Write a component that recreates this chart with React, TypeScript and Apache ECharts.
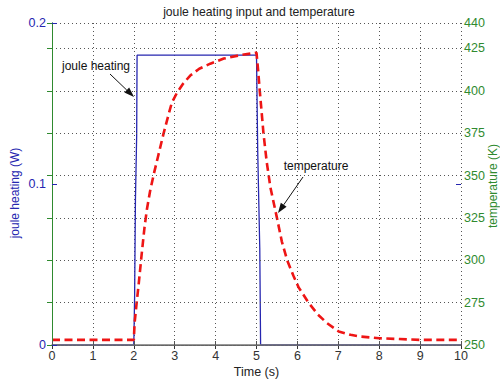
import React, { useEffect, useRef } from "react";
import * as echarts from "echarts";

const chartTitle = "joule heating input and temperature";
const xAxisName = "Time (s)";
const leftAxisName = "joule heating (W)";
const rightAxisName = "temperature (K)";

// joule heating input (W) vs time (s)
const heatingData: [number, number][] = [
  [0, 0], [2.0, 0], [2.02, 0.03], [2.04, 0.09], [2.07, 0.13], [2.08, 0.18],
  [5.0, 0.18], [5.03, 0.12], [5.08, 0.06], [5.1, 0], [10, 0],
];

// temperature (K) vs time (s)
const temperatureData: [number, number][] = [
  [0, 253], [2.0, 253], [2.02, 263], [2.07, 275], [2.12, 286], [2.19, 303],
  [2.26, 319], [2.32, 330], [2.4, 341], [2.5, 352], [2.6, 362], [2.73, 375],
  [2.85, 386], [2.93, 393], [3.06, 399], [3.2, 404], [3.38, 409], [3.6, 413],
  [3.87, 416], [4.2, 419], [4.6, 421], [5.0, 422.5], [5.04, 412], [5.08, 400],
  [5.17, 375], [5.25, 358], [5.34, 343], [5.5, 325], [5.62, 311], [5.75, 300],
  [5.9, 291], [6.03, 284], [6.27, 275], [6.5, 268], [6.72, 263], [7.01, 258],
  [7.3, 256], [7.54, 255], [8, 254], [8.5, 253.5], [9, 253], [10, 253],
];

const annotations = [
  { text: "joule heating", tx: 96, ty: 66, from: [110, 74], to: [134, 97] },
  { text: "temperature", tx: 316, ty: 166, from: [303, 177], to: [278, 213] },
];

const FONT = "Liberation Sans, Arial, sans-serif";
const BLUE = "#2626b0";
const GREEN = "#2f8a2f";
const RED = "#ee1515";

function arrowGraphics(a: typeof annotations[number]) {
  const [x1, y1] = a.from;
  const [x2, y2] = a.to;
  const ang = Math.atan2(y2 - y1, x2 - x1);
  const L = 10, W = 3.5;
  const bx = x2 - L * Math.cos(ang), by = y2 - L * Math.sin(ang);
  const nx = -Math.sin(ang), ny = Math.cos(ang);
  return [
    {
      type: "text",
      x: a.tx,
      y: a.ty,
      style: { text: a.text, fill: "#111", font: `12px ${FONT}`, align: "center", verticalAlign: "middle" },
      z: 10,
    },
    {
      type: "line",
      shape: { x1, y1, x2: bx, y2: by },
      style: { stroke: "#111", lineWidth: 1 },
      z: 10,
    },
    {
      type: "polygon",
      shape: { points: [[x2, y2], [bx + nx * W, by + ny * W], [bx - nx * W, by - ny * W]] },
      style: { fill: "#111" },
      z: 10,
    },
  ];
}

export default function App() {
  const ref = useRef<HTMLDivElement>(null);
  useEffect(() => {
    if (!ref.current) return;
    const chart = echarts.init(ref.current, undefined, { renderer: "svg" });
    const dotted = { color: "#555", type: [1, 3] as number[], width: 1 };
    chart.setOption({
      animation: false,
      backgroundColor: "#fff",
      title: {
        text: chartTitle,
        left: 254,
        top: 1,
        textAlign: "center",
        textStyle: { fontSize: 12.2, fontWeight: "normal", color: "#222", fontFamily: FONT },
      },
      grid: { left: 52, right: 39, top: 23, bottom: 36, show: false, outerBoundsMode: "none", containLabel: false },
      xAxis: [
        {
          type: "value", min: 0, max: 10, interval: 1, position: "bottom", z: 5,
          axisLine: { show: true, lineStyle: { color: "#777", width: 1.5 } },
          axisTick: { show: true, inside: true, length: 4, lineStyle: { color: "#555" } },
          axisLabel: { color: "#333", fontSize: 12.5, margin: 4, fontFamily: FONT },
          splitLine: { show: false },
          name: xAxisName, nameLocation: "middle", nameGap: 20, nameMoveOverlap: false,
          nameTextStyle: { color: "#222", fontSize: 12.5, fontFamily: FONT },
        },
        {
          type: "value", min: 0, max: 10, interval: 1, position: "top",
          axisLine: { show: true, lineStyle: { color: "#333", width: 1 } },
          axisTick: { show: true, inside: true, length: 4, lineStyle: { color: "#333" } },
          axisLabel: { show: false },
          splitLine: { show: true, lineStyle: dotted },
        },
      ],
      yAxis: [
        {
          type: "value", min: 0, max: 0.2, interval: 0.1, position: "left", z: 5,
          axisLine: { show: true, lineStyle: { color: BLUE, width: 1 } },
          axisTick: { show: true, inside: true, length: 5, lineStyle: { color: BLUE } },
          axisLabel: { color: BLUE, fontSize: 12.5, margin: 6, fontFamily: FONT },
          splitLine: { show: false },
        },
        {
          type: "value", min: 250, max: 440, interval: 25, position: "right", z: 5,
          axisLine: { show: true, lineStyle: { color: GREEN, width: 1 } },
          axisTick: { show: true, inside: true, length: 5, lineStyle: { color: GREEN } },
          axisLabel: { color: GREEN, fontSize: 12.5, margin: 3, fontFamily: FONT },
          splitLine: { show: true, lineStyle: dotted },
        },
        {
          type: "value", min: 0, max: 0.2, interval: 0.1, position: "right", z: 5,
          axisLine: { show: false },
          axisTick: { show: true, inside: true, length: 5, lineStyle: { color: BLUE }, customValues: [0.1] },
          axisLabel: { show: false },
          splitLine: { show: false },
        },
      ],
      series: [
        {
          type: "line", name: "joule heating", xAxisIndex: 0, yAxisIndex: 0,
          data: heatingData, showSymbol: false, symbol: "none",
          lineStyle: { color: BLUE, width: 1.3 }, z: 2,
        },
        {
          type: "line", name: "temperature", xAxisIndex: 0, yAxisIndex: 1,
          data: temperatureData, showSymbol: false, symbol: "none",
          lineStyle: { color: RED, width: 2.6, type: [8, 4.5] }, z: 3,
        },
      ],
      graphic: [
        ...annotations.flatMap(arrowGraphics),
        {
          type: "text", x: 15, y: 193, rotation: Math.PI / 2,
          style: { text: leftAxisName, fill: BLUE, font: `12px ${FONT}`, align: "center", verticalAlign: "middle" },
        },
        {
          type: "text", x: 493, y: 186, rotation: Math.PI / 2,
          style: { text: rightAxisName, fill: GREEN, font: `12px ${FONT}`, align: "center", verticalAlign: "middle" },
        },
      ],
    });
    return () => chart.dispose();
  }, []);
  return (
    <div
      ref={ref}
      style={{ position: "fixed", left: 0, top: 0, width: 500, height: 381, background: "#fff" }}
    />
  );
}
